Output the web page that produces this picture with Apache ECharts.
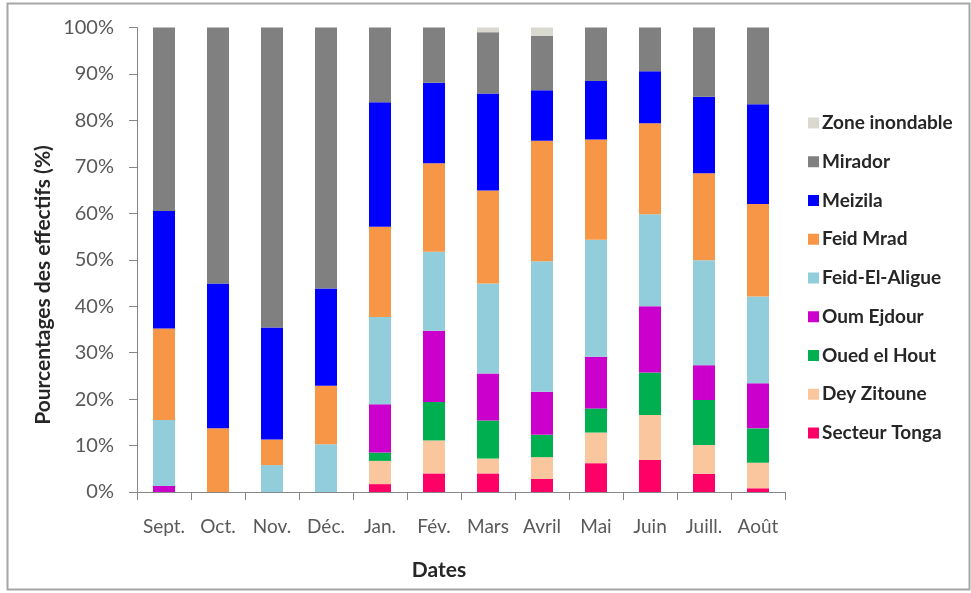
<!DOCTYPE html>
<html>
<head>
<meta charset="utf-8">
<script src="https://cdn.jsdelivr.net/npm/echarts@6/dist/echarts.min.js"></script>
<style>
html,body{margin:0;padding:0;background:#fff;}
#c{width:971px;height:593px;}
</style>
</head>
<body>
<div id="c"></div>
<script>
const categories = ['Sept.', 'Oct.', 'Nov.', 'Déc.', 'Jan.', 'Fév.', 'Mars', 'Avril', 'Mai', 'Juin', 'Juill.', 'Août'];
const yTicks = [0, 10, 20, 30, 40, 50, 60, 70, 80, 90, 100];

const secteurTonga   = [0,    0,    0,    0,    1.7,  4.0,  4.0,  2.8,  6.2,  6.9,  3.9,  0.8];
const deyZitoune     = [0,    0,    0,    0,    5.0,  7.1,  3.2,  4.7,  6.6,  9.7,  6.2,  5.5];
const ouedElHout     = [0,    0,    0,    0,    1.8,  8.3,  8.2,  4.8,  5.2,  9.1,  9.7,  7.4];
const oumEjdour      = [1.3,  0,    0,    0,    10.4, 15.3, 10.1, 9.3,  11.1, 14.3, 7.5,  9.7];
const feidElAligue   = [14.2, 0,    5.8,  10.3, 18.8, 17.0, 19.4, 28.1, 25.2, 19.8, 22.6, 18.7];
const feidMrad       = [19.7, 13.7, 5.5,  12.6, 19.4, 19.1, 20.0, 25.9, 21.6, 19.6, 18.7, 19.9];
const meizila        = [25.3, 31.2, 24.1, 20.9, 26.8, 17.3, 20.9, 10.9, 12.6, 11.2, 16.5, 21.5];
const mirador        = [39.5, 55.1, 64.6, 56.2, 16.1, 11.9, 13.2, 11.7, 11.5, 9.4,  14.9, 16.5];
const zoneInondable  = [0,    0,    0,    0,    0,    0,    1.0,  1.8,  0,    0,    0,    0];

const seriesDefs = [
  {name: 'Secteur Tonga', data: secteurTonga, color: '#FF0066'},
  {name: 'Dey Zitoune', data: deyZitoune, color: '#FAC69E'},
  {name: 'Oued el Hout', data: ouedElHout, color: '#00B050'},
  {name: 'Oum Ejdour', data: oumEjdour, color: '#CC00CC'},
  {name: 'Feid-El-Aligue', data: feidElAligue, color: '#92CDDC'},
  {name: 'Feid Mrad', data: feidMrad, color: '#F79646'},
  {name: 'Meizila', data: meizila, color: '#0000FF'},
  {name: 'Mirador', data: mirador, color: '#808080'},
  {name: 'Zone inondable', data: zoneInondable, color: '#D9D9D0'}
];

const yTitle = 'Pourcentages des effectifs (%)';
const xTitle = 'Dates';

const FONT = 'Lato, "Open Sans", sans-serif';
const chart = echarts.init(document.getElementById('c'), null, {renderer: 'canvas'});
chart.setOption({
  animation: false,
  backgroundColor: '#ffffff',
  graphic: [{
    type: 'rect',
    shape: {x: 7.5, y: 3.5, width: 962, height: 586},
    style: {fill: 'none', stroke: '#a6a6a6', lineWidth: 2},
    silent: true
  }, {
    type: 'text',
    x: 43, y: 285,
    rotation: Math.PI / 2,
    style: {text: yTitle, fontFamily: FONT, fontSize: 21, fontWeight: 'bold', fill: '#262626', align: 'center', verticalAlign: 'middle'},
    silent: true
  }, {
    type: 'text',
    x: 439, y: 570,
    style: {text: xTitle, fontFamily: FONT, fontSize: 21, fontWeight: 'bold', fill: '#262626', align: 'center', verticalAlign: 'middle'},
    silent: true
  }],
  grid: {left: 137, right: 186, top: 27.5, bottom: 101, containLabel: false},
  legend: {
    orient: 'vertical',
    left: 803,
    top: 108,
    itemWidth: 11,
    itemHeight: 11,
    itemGap: 18.75,
    icon: 'rect',
    data: seriesDefs.map(s => s.name).reverse(),
    textStyle: {fontFamily: FONT, fontSize: 19, fontWeight: 'bold', color: '#262626', lineHeight: 20, padding: [0, 0, 0, -2]}
  },
  xAxis: {
    type: 'category',
    data: categories,
    axisLine: {lineStyle: {color: '#868686', width: 1}},
    axisTick: {show: true, length: 8, lineStyle: {color: '#868686'}},
    axisLabel: {interval: 0, margin: 25, fontFamily: FONT, fontSize: 19, color: '#595959'}
  },
  yAxis: {
    type: 'value',
    min: yTicks[0],
    max: yTicks[yTicks.length - 1],
    interval: yTicks[1] - yTicks[0],
    axisLine: {show: true, lineStyle: {color: '#868686', width: 1}},
    axisTick: {show: true, length: 8, lineStyle: {color: '#868686'}},
    splitLine: {show: false},
    axisLabel: {margin: 23, fontFamily: FONT, fontSize: 20, color: '#595959', formatter: '{value}%'}
  },
  series: seriesDefs.map(s => ({
    name: s.name,
    type: 'bar',
    stack: 'total',
    barWidth: 22,
    data: s.data,
    itemStyle: {color: s.color},
    emphasis: {disabled: true}
  }))
});
</script>
</body>
</html>
